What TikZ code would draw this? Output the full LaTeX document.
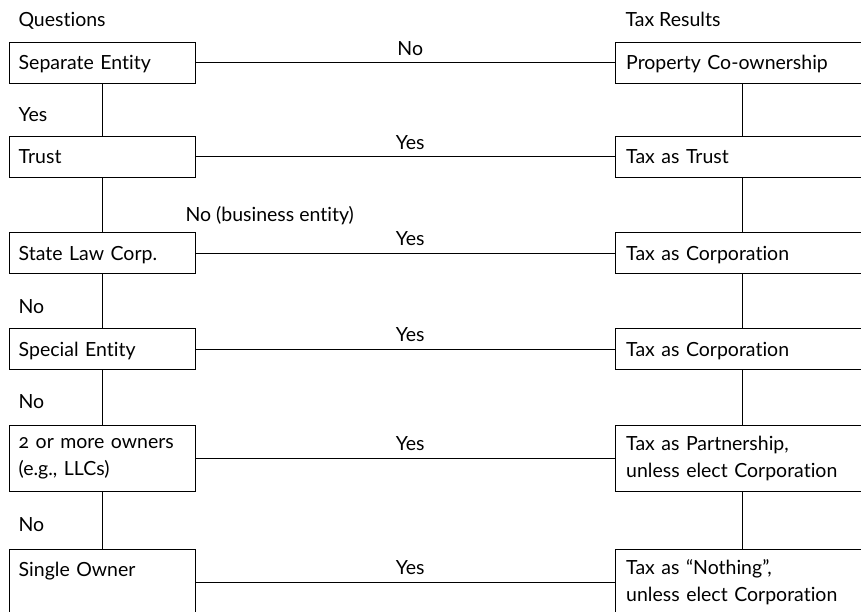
\documentclass[tikz,border=0pt]{standalone}
\usepackage{fontspec}
\setmainfont[Numbers=OldStyle, Ligatures=NoCommon]{Lato}
\usetikzlibrary{positioning}

\begin{document}
\begin{tikzpicture}[x=1pt, y=-1pt, line width=1pt,
  font=\fontsize{19.5}{27}\selectfont,
  every node/.style={inner sep=0pt},
  qbox/.style={draw, rectangle, anchor=north west, text width=167pt, inner xsep=9.5pt, align=left},
  rbox/.style={draw, rectangle, text width=233pt, inner xsep=11pt, align=left},
  one/.style={minimum height=41pt, text height=14pt, text depth=0pt},
  two/.style={minimum height=66pt},
  lbl/.style={anchor=base west}]
\useasboundingbox (0,0) rectangle (861,612);
\clip (0,0) rectangle (861,612);

% headings
\node [lbl] (qhead) at (18,26.7) {Questions};
\node [lbl] (rhead) at (625,26.7) {Tax Results};

% questions
\node [qbox, one] (se) at (8.7,42) {Separate Entity};
\node [qbox, one] (tr) at (8.7,136) {Trust};
\node [qbox, one] (sl) at (8.7,232) {State Law Corp.};
\node [qbox, one] (sp) at (8.7,328) {Special Entity};
\node [qbox, two] (mo) at (8.7,425) {2 or more owners\\(e.g., LLCs)};
\node [qbox, two] (so) at (8.7,549) {Single Owner\\\mbox{}};

% results
\node [rbox, one, right=419pt of se] (pc) {Property Co-ownership};
\node [rbox, one, right=419pt of tr] (tt) {Tax as Trust};
\node [rbox, one, right=419pt of sl] (tc) {Tax as Corporation};
\node [rbox, one, right=419pt of sp] (tc2) {Tax as Corporation};
\node [rbox, two, right=419pt of mo] (tp) {Tax as Partnership,\\unless elect Corporation};
\node [rbox, two, right=419pt of so] (tn) {Tax as “Nothing”,\\unless elect Corporation};

% answers down the left
\node [lbl] (ayes) at (18,121.7) {Yes};
\node [lbl] (abiz) at (185,221.7) {No (business entity)};
\node [lbl] (ano1) at (18,313) {No};
\node [lbl] (ano2) at (18,408) {No};
\node [lbl] (ano3) at (18,531.7) {No};

\draw (se) -- (tr);
\draw (tr) -- (sl);
\draw (sl) -- (sp);
\draw (sp) -- (mo);
\draw (mo) -- (so);

\draw (pc) -- (tt);
\draw (tt) -- (tc);
\draw (tc) -- (tc2);
\draw (tc2) -- (tp);
\draw (tp) -- (tn);

\draw (se) -- node [above=7pt, pos=.512] {No} (pc);
\draw (tr) -- node [above=7pt, pos=.512] {Yes} (tt);
\draw (sl) -- node [above=7pt, pos=.512] {Yes} (tc);
\draw (sp) -- node [above=7pt, pos=.512] {Yes} (tc2);
\draw (mo) -- node [above=7pt, pos=.512] {Yes} (tp);
\draw (so) -- node [above=7pt, pos=.512] {Yes} (tn);
\end{tikzpicture}
\end{document}
